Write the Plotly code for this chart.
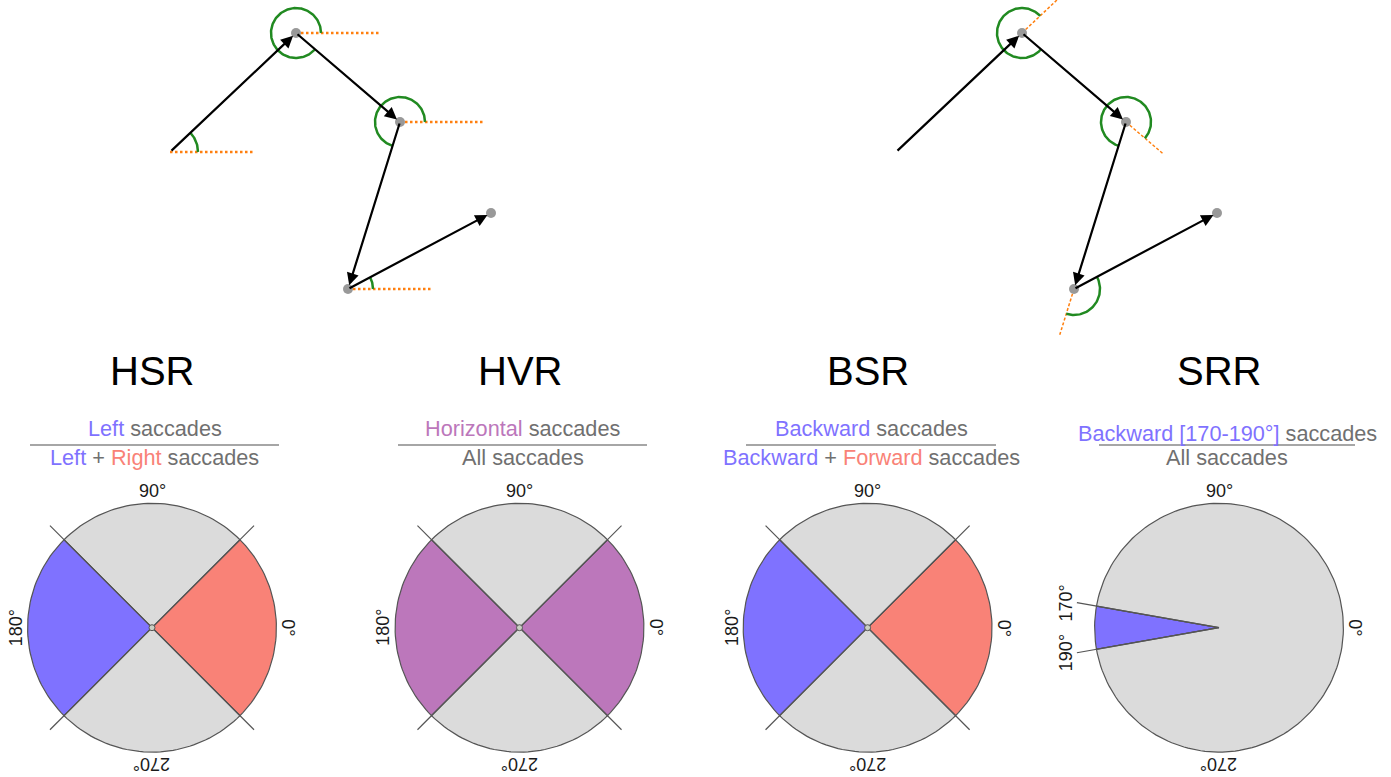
import numpy as np
import plotly.graph_objects as go

W, H = 1391, 777
FONT = "Liberation Sans, Arial, Helvetica, sans-serif"

# ---------------- data ----------------
# scanpath fixations (pixel coords within left panel); right panel is the same scanpath
fix_x = [170, 296, 400, 348, 491]
fix_y = [152, 33, 122, 289, 213]
panel_shift = [0, 726]

# ratio panels
panel_names = ["HSR", "HVR", "BSR", "SRR"]
panel_cx = [152, 519.5, 867.6, 1219]
numerators = [
    "<span style='color:#7f72ff'>Left</span> saccades",
    "<span style='color:#bc77bb'>Horizontal</span> saccades",
    "<span style='color:#7f72ff'>Backward</span> saccades",
    "<span style='color:#7f72ff'>Backward [170-190°]</span> saccades",
]
denominators = [
    "<span style='color:#7f72ff'>Left</span> + <span style='color:#f98277'>Right</span> saccades",
    "All saccades",
    "<span style='color:#7f72ff'>Backward</span> + <span style='color:#f98277'>Forward</span> saccades",
    "All saccades",
]
frac_x0 = [30, 398, 746, 1099]
frac_x1 = [279, 647, 996, 1355]

BLUE, RED, PURPLE, GREY = "#7f72ff", "#f98277", "#bc77bb", "#dbdbdb"
# sector boundaries (degrees, counter-clockwise from east) and fill colours
sector_edges = {
    "HSR": [-45, 45, 135, 225, 315],
    "HVR": [-45, 45, 135, 225, 315],
    "BSR": [-45, 45, 135, 225, 315],
    "SRR": [170, 190, 530],
}
sector_colors = {
    "HSR": [RED, GREY, BLUE, GREY],
    "HVR": [PURPLE, GREY, PURPLE, GREY],
    "BSR": [RED, GREY, BLUE, GREY],
    "SRR": [BLUE, GREY],
}
divider_angles = {
    "HSR": [45, 135, 225, 315],
    "HVR": [45, 135, 225, 315],
    "BSR": [45, 135, 225, 315],
    "SRR": [170, 190],
}
angle_labels = {
    "HSR": [("90°", 90), ("0°", 0), ("180°", 180), ("270°", 270)],
    "HVR": [("90°", 90), ("0°", 0), ("180°", 180), ("270°", 270)],
    "BSR": [("90°", 90), ("0°", 0), ("180°", 180), ("270°", 270)],
    "SRR": [("90°", 90), ("0°", 0), ("270°", 270)],
}
srr_edge_labels = [("170°", 170.8), ("190°", 189.2)]

PIE_CY = 627.7
PIE_R = 124.4

# ---------------- helpers ----------------
def arc(cx, cy, r, a0, a1, n=None):
    if n is None:
        n = max(8, int(abs(a1 - a0) / 2) + 2)
    t = np.radians(np.linspace(a0, a1, n))
    return cx + r * np.cos(t), cy - r * np.sin(t)

def sacc_angle(i):
    dx = fix_x[i + 1] - fix_x[i]
    dy = -(fix_y[i + 1] - fix_y[i])
    return np.degrees(np.arctan2(dy, dx)) % 360

fig = go.Figure()
annotations = []

GREEN = "#218a21"
ORANGE = "#ff7f0e"

# ---------------- scanpath panels ----------------
for p, sh in enumerate(panel_shift):
    xs = [x + sh for x in fix_x]
    n_sacc = len(fix_x) - 1
    if p == 0:
        # horizontal reference lines + arcs from 0° to saccade angle
        for i in range(n_sacc):
            fig.add_trace(go.Scatter(x=[xs[i], xs[i] + 83], y=[fix_y[i], fix_y[i]], mode="lines",
                                     line=dict(color=ORANGE, width=2.5, dash="2.5px,2.5px"), hoverinfo="skip"))
            r = 28 if i == 0 else 25
            ax_, ay_ = arc(xs[i], fix_y[i], r, 0, sacc_angle(i))
            fig.add_trace(go.Scatter(x=ax_, y=ay_, mode="lines", line=dict(color=GREEN, width=2.5),
                                     hoverinfo="skip"))
    else:
        # extension of incoming saccade + arc from incoming to outgoing direction
        for i in range(1, n_sacc):
            a_in = sacc_angle(i - 1)
            a_out = sacc_angle(i)
            L = 50
            fig.add_trace(go.Scatter(x=[xs[i], xs[i] + L * np.cos(np.radians(a_in))],
                                     y=[fix_y[i], fix_y[i] - L * np.sin(np.radians(a_in))],
                                     mode="lines", line=dict(color=ORANGE, width=1.5, dash="3px,2px"),
                                     hoverinfo="skip"))
            sweep = (a_out - a_in) % 360
            r = 26 if i == 3 else 25
            ax_, ay_ = arc(xs[i], fix_y[i], r, a_in, a_in + sweep)
            fig.add_trace(go.Scatter(x=ax_, y=ay_, mode="lines", line=dict(color=GREEN, width=2.5),
                                     hoverinfo="skip"))
    # fixation dots (not the start point)
    fig.add_trace(go.Scatter(x=xs[1:], y=fix_y[1:], mode="markers",
                             marker=dict(color="#999999", size=10, line=dict(width=0)), hoverinfo="skip"))
    # saccade arrows
    for i in range(n_sacc):
        annotations.append(dict(x=xs[i + 1], y=fix_y[i + 1], ax=xs[i], ay=fix_y[i],
                                xref="x", yref="y", axref="x", ayref="y", text="",
                                showarrow=True, arrowhead=2, arrowsize=1.1, arrowwidth=2.2,
                                arrowcolor="black", standoff=4))

# ---------------- ratio panels ----------------
for k, name in enumerate(panel_names):
    cx = panel_cx[k]
    # title
    annotations.append(dict(x=cx, y=371, xref="x", yref="y", text=name, showarrow=False,
                            font=dict(family=FONT, size=40, color="black"),
                            xanchor="center", yanchor="middle"))
    ny = 433 if name == "SRR" else 428
    annotations.append(dict(x=(frac_x0[k] + frac_x1[k]) / 2, y=ny, xref="x", yref="y",
                            text=numerators[k], showarrow=False,
                            font=dict(family=FONT, size=21.7, color="#707070"),
                            xanchor="center", yanchor="middle"))
    annotations.append(dict(x=(frac_x0[k] + frac_x1[k]) / 2, y=457, xref="x", yref="y",
                            text=denominators[k], showarrow=False,
                            font=dict(family=FONT, size=21.7, color="#707070"),
                            xanchor="center", yanchor="middle"))
    fig.add_trace(go.Scatter(x=[frac_x0[k], frac_x1[k]], y=[445, 445], mode="lines",
                             line=dict(color="#888888", width=1.5), hoverinfo="skip"))

    # wedges
    edges = sector_edges[name]
    for j, col in enumerate(sector_colors[name]):
        px, py = arc(cx, PIE_CY, PIE_R, edges[j], edges[j + 1])
        fig.add_trace(go.Scatter(x=np.r_[cx, px, cx], y=np.r_[PIE_CY, py, PIE_CY], mode="lines",
                                 fill="toself", fillcolor=col,
                                 line=dict(color="#555555", width=1.2), hoverinfo="skip"))
    # divider lines extending beyond circle
    for a in divider_angles[name]:
        t = np.radians(a)
        fig.add_trace(go.Scatter(x=[cx, cx + 1.16 * PIE_R * np.cos(t)],
                                 y=[PIE_CY, PIE_CY - 1.16 * PIE_R * np.sin(t)], mode="lines",
                                 line=dict(color="#555555", width=1.2), hoverinfo="skip"))
    if name != "SRR":
        fig.add_trace(go.Scatter(x=[cx], y=[PIE_CY], mode="markers",
                                 marker=dict(size=6, color="#c9cfc3", line=dict(color="#555555", width=1)),
                                 hoverinfo="skip"))
    # angle labels
    for lab, a in angle_labels[name]:
        t = np.radians(a)
        rl = PIE_R + 12
        rot = {90: 0, 0: 90, 180: -90, 270: 180}[a]
        annotations.append(dict(x=cx + rl * np.cos(t), y=PIE_CY - rl * np.sin(t), xref="x", yref="y",
                                text=lab, showarrow=False, textangle=rot,
                                font=dict(family=FONT, size=18, color="#1a1a1a"),
                                xanchor="center", yanchor="middle"))
    if name == "SRR":
        for lab, a in srr_edge_labels:
            t = np.radians(a)
            rl = PIE_R + 31
            annotations.append(dict(x=cx + rl * np.cos(t), y=PIE_CY - rl * np.sin(t), xref="x", yref="y",
                                    text=lab, showarrow=False, textangle=-90,
                                    font=dict(family=FONT, size=18, color="#1a1a1a"),
                                    xanchor="center", yanchor="middle"))

fig.update_layout(
    width=W, height=H, margin=dict(l=0, r=0, t=0, b=0),
    paper_bgcolor="white", plot_bgcolor="white", showlegend=False,
    xaxis=dict(range=[0, W], visible=False, fixedrange=True),
    yaxis=dict(range=[H, 0], visible=False, fixedrange=True),
    annotations=annotations,
)

fig.write_html("out.html", config={"displayModeBar": False},
               post_script="document.body.style.margin='0';")
